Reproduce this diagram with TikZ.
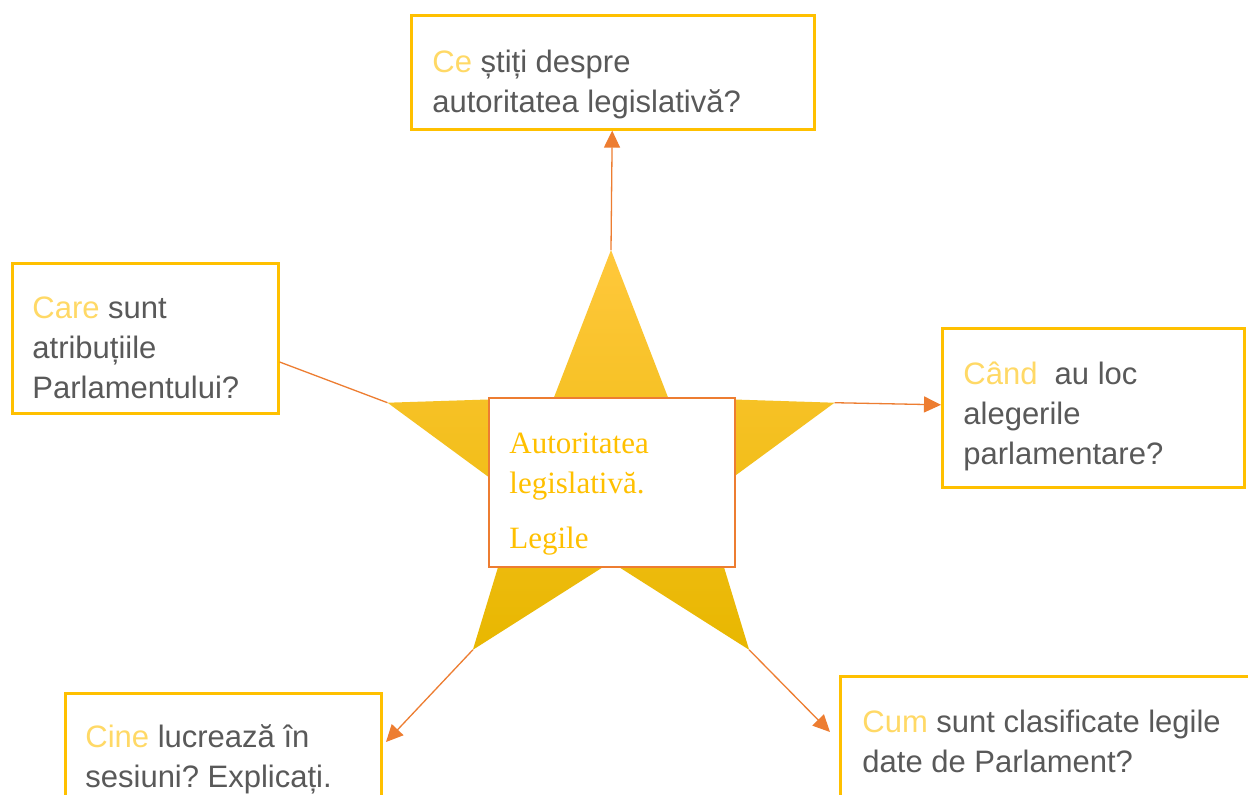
\documentclass[tikz,border=0pt]{standalone}
\usepackage{fontspec}
\setmainfont{Liberation Sans}
\newfontfamily\hubfont{Liberation Serif}
\usetikzlibrary{arrows.meta}
\frenchspacing

\definecolor{gold}{HTML}{FFC000}
\definecolor{paleGold}{HTML}{FFD966}
\definecolor{burnt}{HTML}{ED7D31}
\definecolor{slate}{HTML}{595959}
\definecolor{starTop}{HTML}{FFC83C}
\definecolor{starBottom}{HTML}{E8B700}

\newcommand{\kw}[1]{\textcolor{paleGold}{#1}}

\begin{document}
\begin{tikzpicture}[
x=0.5pt, y=-0.5pt,
frame/.style={draw=gold, line width=1.3pt, inner sep=0pt, anchor=north west},
hub/.style={draw=burnt, line width=1.2pt, fill=white, inner sep=0pt, anchor=north west},
question/.style={anchor=north west, inner sep=0pt, align=left, text=slate, font=\fontsize{15.5pt}{20pt}\selectfont},
arrow/.style={-{Triangle[length=8.5pt, width=8pt]}, draw=burnt, line width=0.65pt},
link/.style={draw=burnt, line width=0.65pt}
]
\fill[white, use as bounding box] (0,0) rectangle (1248,794);

% star points
\foreach \n/\a in {top/90, left/162, bl/234, br/306, right/18}{
  \coordinate (s-\n) at ({611+235*cos(\a)},{471-221*sin(\a)});
  \coordinate (i-\n) at ({611+97*cos(\a+36)},{471-91*sin(\a+36)});
}
\shade[top color=starTop, middle color=gold, bottom color=starBottom]
  (s-top) -- (i-right) -- (s-right) -- (i-br) -- (s-br)
  -- (i-bl) -- (s-bl) -- (i-left) -- (s-left) -- (i-top) -- cycle;

% boxes
\node[frame, minimum width=201.5pt, minimum height=57pt] (ce) at (410,14) {};
\node[frame, minimum width=133pt, minimum height=75pt] (care) at (11,262) {};
\node[frame, minimum width=151pt, minimum height=79.5pt] (cand) at (941,327) {};
\node[frame, minimum width=158pt, minimum height=100pt] (cine) at (64,692) {};
\node[frame, minimum width=230pt, minimum height=80pt] (cum) at (839,675) {};

\node[question] (ce text) at (432,44) {\strut\kw{Ce} știți despre\\autoritatea legislativă?};
\node[question] (care text) at (32,290) {\strut\kw{Care} sunt\\atribuțiile\\Parlamentului?};
\node[question] (cand text) at (963,356) {\strut\kw{Când}~ au loc\\alegerile\\parlamentare?};
\node[question] (cine text) at (85,719) {\strut\kw{Cine} lucrează în\\sesiuni? Explicați.};
\node[question] (cum text) at (862,704) {\strut\kw{Cum} sunt clasificate legile\\date de Parlament?};

% centre
\node[hub, minimum width=123pt, minimum height=84.5pt] (hub) at (488,397) {};
\node[anchor=north west, inner sep=0pt, align=left, text=gold, font=\hubfont\fontsize{15.5pt}{20pt}\selectfont] (hub text) at (509,425) {\strut Autoritatea\\legislativă.\\[7.5pt]Legile};

\coordinate (cine tip) at (386,742);
\coordinate (cum tip) at (830,732);

\draw[arrow] (s-top) -- (ce);
\draw[link] (s-left) -- (care.-10.6);
\draw[arrow] (s-right) -- (cand);
\draw[arrow] (s-bl) -- (cine tip);
\draw[arrow] (s-br) -- (cum tip);

\end{tikzpicture}
\end{document}
